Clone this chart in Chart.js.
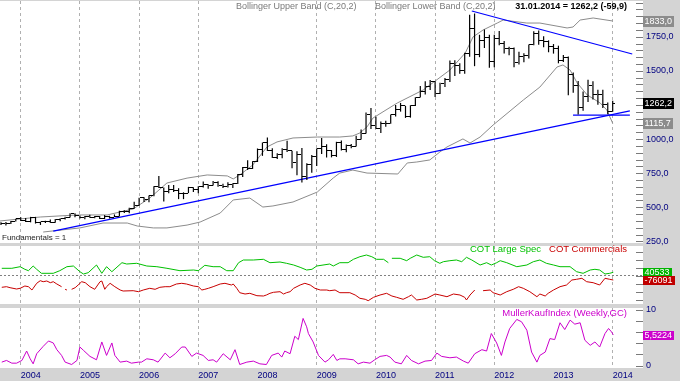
<!DOCTYPE html>
<html><head><meta charset="utf-8">
<script src="https://cdn.jsdelivr.net/npm/chart.js@4.4.1/dist/chart.umd.min.js"></script>
<style>
html,body{margin:0;padding:0;}
body{background:#d4d4d4;width:680px;height:381px;overflow:hidden;position:relative;font-family:'Liberation Sans',Arial,sans-serif;}
.pane{position:absolute;left:0;width:680px;}
.t{position:absolute;white-space:nowrap;font-size:9px;line-height:10px;}
</style></head>
<body>
<div class="pane" style="top:1px;height:245px"><canvas id="pricec"></canvas></div>
<div class="pane" style="top:246px;height:58px"><canvas id="cotc"></canvas></div>
<div class="pane" style="top:305px;height:76px"><canvas id="mkc"></canvas></div>
<div class="t" style="left:236px;top:1px;color:#7a7a7a">Bollinger Upper Band (C,20,2)</div>
<div class="t" style="left:375px;top:1px;color:#7a7a7a">Bollinger Lower Band (C,20,2)</div>
<div class="t" style="right:53px;top:1px;color:#000;font-weight:bold">31.01.2014 = 1262,2 (-59,9)</div>
<div class="t" style="left:2px;top:233px;color:#222;font-size:8px">Fundamentals = 1</div>
<div class="t" style="right:53px;top:244px;font-size:9.5px"><span style="color:#00c000">COT Large Spec</span>&nbsp;&nbsp;&nbsp;<span style="color:#c80000">COT Commercials</span></div>
<div class="t" style="right:53px;top:308px;color:#cc00cc;font-size:9.5px">MullerKaufIndex (Weekly,GC)</div>
<script>
const FONT = "'Liberation Sans', Arial, sans-serif";
const XMIN = 2003.65, XMAX = 2014.512;
const yearTicks = [2004,2005,2006,2007,2008,2009,2010,2011,2012,2013,2014];
const noGridYears = [2008, 2013];
const priceTicks = [250,500,750,1000,1250,1500,1750];
const mkTicks = [0,10];

const months = ['2003-09','2003-10','2003-11','2003-12',
'2004-01','2004-02','2004-03','2004-04','2004-05','2004-06','2004-07','2004-08','2004-09','2004-10','2004-11','2004-12',
'2005-01','2005-02','2005-03','2005-04','2005-05','2005-06','2005-07','2005-08','2005-09','2005-10','2005-11','2005-12',
'2006-01','2006-02','2006-03','2006-04','2006-05','2006-06','2006-07','2006-08','2006-09','2006-10','2006-11','2006-12',
'2007-01','2007-02','2007-03','2007-04','2007-05','2007-06','2007-07','2007-08','2007-09','2007-10','2007-11','2007-12',
'2008-01','2008-02','2008-03','2008-04','2008-05','2008-06','2008-07','2008-08','2008-09','2008-10','2008-11','2008-12',
'2009-01','2009-02','2009-03','2009-04','2009-05','2009-06','2009-07','2009-08','2009-09','2009-10','2009-11','2009-12',
'2010-01','2010-02','2010-03','2010-04','2010-05','2010-06','2010-07','2010-08','2010-09','2010-10','2010-11','2010-12',
'2011-01','2011-02','2011-03','2011-04','2011-05','2011-06','2011-07','2011-08','2011-09','2011-10','2011-11','2011-12',
'2012-01','2012-02','2012-03','2012-04','2012-05','2012-06','2012-07','2012-08','2012-09','2012-10','2012-11','2012-12',
'2013-01','2013-02','2013-03','2013-04','2013-05','2013-06','2013-07','2013-08','2013-09','2013-10','2013-11','2013-12',
'2014-01'];

const openP = [375,385,384,397, 416,400,397,427,388,393,396,391,409,416,428,453, 438,423,436,428,435,417,436,429,433,473,470,495, 513,569,556,583,654,644,614,633,623,599,604,646, 632,650,665,662,681,659,650,666,673,743,789,783, 834,924,972,916,863,885,925,914,829,884,724,815, 869,928,942,916,883,975,927,954,949,996,1040,1182, 1096,1081,1116,1113,1180,1215,1244,1169,1246,1307,1346,1383, 1421,1332,1410,1439,1556,1536,1500,1628,1813,1620,1722,1746, 1566,1740,1697,1662,1664,1558,1604,1610,1692,1772,1719,1714, 1675,1663,1578,1595,1476,1393,1234,1313,1396,1327,1323,1253, 1202];
const highP = [390,393,399,417, 427,421,430,430,395,401,410,415,420,430,456,457, 440,437,445,436,436,443,438,448,474,479,497,540, 571,574,587,654,730,646,664,663,640,610,650,647, 655,690,669,692,691,672,683,677,745,795,845,838, 931,975,1011,932,897,932,987,915,910,934,822,884, 931,1007,962,920,980,990,960,963,1024,1070,1195,1227, 1163,1128,1135,1180,1249,1265,1244,1248,1307,1388,1424,1432, 1423,1412,1448,1576,1577,1555,1632,1911,1920,1764,1803,1764, 1764,1791,1718,1676,1670,1640,1628,1692,1790,1796,1754,1723, 1696,1684,1616,1605,1487,1425,1348,1434,1424,1362,1361,1267, 1280];
const lowP = [370,367,378,397, 399,392,390,381,371,386,386,387,398,411,425,427, 418,412,424,420,414,414,418,429,433,459,457,490, 512,539,537,581,641,543,603,612,560,560,604,612, 603,646,636,660,650,641,646,641,670,722,773,781, 832,877,913,861,854,859,905,786,735,681,700,753, 803,890,865,866,869,917,904,933,946,996,1040,1074, 1075,1045,1090,1113,1165,1201,1155,1157,1243,1305,1326,1360, 1308,1330,1381,1418,1462,1478,1478,1603,1534,1600,1667,1523, 1527,1688,1627,1614,1527,1547,1562,1591,1687,1691,1672,1636, 1626,1555,1565,1321,1339,1180,1208,1271,1290,1251,1227,1181, 1200];
const closeP = [385,384,397,416, 400,397,427,388,393,396,391,409,416,428,453,438, 423,436,428,435,417,436,429,433,473,470,495,513, 569,556,583,654,644,614,633,623,599,604,646,632, 650,665,662,681,659,650,666,673,743,789,783,834, 924,972,916,863,885,925,914,829,884,724,815,869, 928,942,916,883,975,927,954,949,996,1040,1182,1096, 1081,1116,1113,1180,1215,1244,1169,1246,1307,1346,1383,1421, 1332,1410,1439,1556,1536,1500,1628,1813,1620,1722,1746,1566, 1740,1697,1662,1664,1558,1604,1610,1692,1772,1719,1714,1675, 1663,1578,1595,1476,1393,1234,1313,1396,1327,1323,1253,1202, 1262.2];

const upperDates = [2003.65,2003.99,2004.33,2004.95,2005.46,2005.90,2006.18,2006.47,2006.81,2007.15,2007.49,2007.59,2007.70,2007.92,2008.16,2008.33,2008.60,2009.01,2009.39,2009.61,2009.73,2009.85,2009.95,2010.36,2010.80,2011.25,2011.51,2011.64,2011.81,2012.05,2012.15,2012.55,2012.77,2013.23,2013.33,2013.45,2013.67,2014.00];
const upperVals = [400,415,429,444,444,488,568,678,714,737,730,708,737,810,942,979,1008,1015,1015,1023,1045,1089,1154,1264,1360,1506,1631,1748,1799,1850,1872,1850,1850,1814,1821,1872,1887,1865];
const lowerDates = [2004.38,2005.00,2005.39,2005.80,2005.97,2006.24,2006.47,2006.81,2007.03,2007.37,2007.59,2007.87,2008.09,2008.26,2008.60,2009.01,2009.28,2009.39,2009.61,2009.85,2010.37,2010.53,2010.69,2010.91,2011.08,2011.20,2011.47,2011.59,2011.76,2011.98,2012.49,2012.77,2013.06,2013.16,2013.28,2013.40,2013.57,2013.79,2013.90,2014.00];
const lowerVals = [319,349,385,385,363,349,349,370,392,458,554,568,502,510,539,612,715,751,773,751,744,825,832,847,905,942,1001,971,1015,1103,1286,1381,1528,1543,1506,1411,1323,1264,1213,1116];

const riseDates = [2004.55, 2014.29], riseVals = [326, 1206];
const fallDates = [2011.62, 2014.33], fallVals = [1938, 1623];
const flatDates = [2013.33, 2014.29], flatVals = [1176, 1176];

const specDates = [2003.68,2003.85,2003.99,2004.07,2004.13,2004.21,2004.27,2004.35,2004.55,2004.66,2004.78,2004.89,2005.00,2005.06,2005.14,2005.28,2005.37,2005.45,2005.54,2005.71,2005.79,2005.96,2006.13,2006.30,2006.47,2006.69,2006.92,2007.00,2007.11,2007.25,2007.37,2007.48,2007.59,2007.68,2007.76,2007.93,2008.10,2008.21,2008.38,2008.49,2008.61,2008.72,2008.83,2008.92,2009.00,2009.22,2009.28,2009.39,2009.53,2009.62,2009.73,2009.84,2009.93,2010.01,2010.13,2010.21,2010.24,2010.27,2010.41,2010.52,2010.58,2010.69,2010.80,2010.91,2010.99,2011.08,2011.14,2011.25,2011.36,2011.45,2011.53,2011.62,2011.76,2011.87,2011.95,2012.04,2012.10,2012.21,2012.38,2012.55,2012.66,2012.77,2012.88,2013.00,2013.11,2013.28,2013.39,2013.50,2013.62,2013.70,2013.78,2013.87,2013.95,2014.01];
const specVals = [77,77,93,67,53,100,67,27,27,53,93,100,43,20,33,110,27,93,43,133,120,127,100,93,77,53,60,53,107,93,93,53,53,133,160,160,167,133,140,127,110,87,60,67,100,120,100,133,133,167,193,210,193,167,167,133,null,177,177,153,177,210,187,193,153,127,143,153,160,143,187,160,110,133,110,133,153,133,93,110,143,160,127,110,93,93,43,27,60,67,60,20,27,37];
const commDates = [2003.68,2003.76,2003.82,2003.93,2003.99,2004.07,2004.13,2004.19,2004.21,2004.27,2004.33,2004.38,2004.44,2004.50,2004.55,2004.61,2004.69,2004.72,2004.75,2004.78,2004.82,2004.86,2004.92,2004.97,2005.03,2005.09,2005.17,2005.25,2005.34,2005.37,2005.42,2005.45,2005.51,2005.59,2005.68,2005.73,2005.90,2005.99,2006.07,2006.18,2006.27,2006.35,2006.44,2006.52,2006.63,2006.72,2006.80,2006.92,2007.00,2007.06,2007.11,2007.17,2007.25,2007.37,2007.45,2007.56,2007.59,2007.65,2007.70,2007.79,2007.87,2007.99,2008.10,2008.15,2008.21,2008.27,2008.38,2008.44,2008.49,2008.55,2008.61,2008.72,2008.80,2008.89,2008.97,2009.06,2009.17,2009.22,2009.31,2009.39,2009.56,2009.65,2009.73,2009.82,2009.87,2009.96,2010.07,2010.18,2010.27,2010.35,2010.46,2010.55,2010.60,2010.69,2010.77,2010.86,2011.00,2011.08,2011.20,2011.31,2011.42,2011.50,2011.53,2011.59,2011.67,2011.74,2011.81,2011.93,2011.98,2012.10,2012.21,2012.32,2012.41,2012.49,2012.60,2012.72,2012.77,2012.86,2012.91,2013.00,2013.11,2013.22,2013.31,2013.39,2013.48,2013.56,2013.67,2013.78,2013.87,2013.95,2014.01];
const commVals = [-113,-107,-117,-130,-123,-100,-107,-140,-123,-73,-47,-57,-50,-67,-57,-80,-107,null,-133,-140,null,-133,-117,-90,-57,-67,-107,-133,-57,-50,-133,-107,-73,-107,-140,-150,-147,-157,-140,-123,-133,-113,-107,-107,-80,-73,-80,-100,-107,-140,-133,-123,-107,-80,-73,-90,-80,-123,-167,-180,-173,-197,-200,-190,-173,-163,-157,-180,-167,-157,-123,-90,-73,-90,-123,-140,-140,-147,-140,-167,-167,-190,-223,-233,-247,-213,-190,-173,-200,-213,-233,-207,-190,-240,-233,-223,-180,-190,-207,-180,-190,-213,-240,-190,-140,null,-147,-140,-167,-190,-157,-133,-107,-123,-157,-207,-180,-200,-173,-140,-107,-90,-40,-33,-23,-57,-67,-90,-23,-33,-40];

const mkDates = [2003.68,2003.76,2003.85,2003.93,2004.02,2004.10,2004.16,2004.21,2004.27,2004.38,2004.47,2004.55,2004.61,2004.69,2004.75,2004.86,2004.95,2005.00,2005.06,2005.17,2005.28,2005.37,2005.45,2005.54,2005.59,2005.68,2005.79,2005.87,2005.99,2006.04,2006.13,2006.24,2006.32,2006.44,2006.52,2006.61,2006.72,2006.78,2006.89,2006.97,2007.08,2007.17,2007.25,2007.31,2007.42,2007.54,2007.62,2007.70,2007.82,2007.93,2008.04,2008.15,2008.24,2008.35,2008.41,2008.46,2008.55,2008.63,2008.69,2008.77,2008.83,2008.86,2008.94,2009.03,2009.14,2009.20,2009.28,2009.34,2009.39,2009.48,2009.62,2009.70,2009.79,2009.90,2009.98,2010.07,2010.18,2010.24,2010.32,2010.43,2010.52,2010.60,2010.72,2010.83,2010.94,2011.03,2011.11,2011.25,2011.36,2011.48,2011.56,2011.67,2011.79,2011.87,2011.95,2012.04,2012.12,2012.18,2012.26,2012.38,2012.46,2012.55,2012.63,2012.72,2012.77,2012.86,2012.94,2013.02,2013.11,2013.19,2013.28,2013.36,2013.45,2013.53,2013.62,2013.70,2013.78,2013.87,2013.93,2013.98,2014.01];
const mkVals = [0.61,0.91,0.42,0.42,0.91,2.61,1.21,0.30,2.12,3.45,4.42,4.06,2.85,1.82,0.61,0.18,0.91,3.33,2.73,1.64,1.03,4.24,1.82,4.06,1.82,0.61,0.79,0.42,0.61,0.61,1.21,1.03,0.61,2.24,1.39,2.12,3.33,3.33,1.64,2.24,1.82,0.91,1.03,0.61,2.12,1.03,2.85,0.18,0.61,0.79,0.30,0.18,1.82,2.24,1.52,2.61,2.12,5.27,4.67,8.48,6.97,5.76,4.24,1.82,0.61,1.03,2.00,0.91,1.20,1.21,1.03,0.30,0.61,0.42,1.03,1.64,1.82,1.52,0.61,0.30,1.82,0.91,0.30,0.79,0.91,2.24,1.64,1.39,1.52,0.79,0.42,2.12,2.85,2.61,5.76,4.06,1.82,4.24,6.67,8.30,7.88,6.36,2.42,0.61,1.82,2.42,4.85,4.67,7.70,6.48,8.18,7.45,7.70,4.55,3.64,4.24,3.33,5.76,6.67,6.06,5.52];

const badgeTexts = {upper:'1833,0', close:'1262,2', lower:'1115,7', spec:'40533', comm:'-76091', mk:'5,5224'};

// ---------- helpers ----------
function yr(m){ const p = m.split('-').map(Number); return p[0] + (p[1]-1)/12; }
function pts(xs, ys){ return xs.map((x,i)=>({x:x, y:ys[i]})); }
function last(a){ return a[a.length-1]; }
function tickImg(left){
  const c = document.createElement('canvas'); c.width = 5; c.height = 1;
  const g = c.getContext('2d'); g.fillStyle = '#000'; g.fillRect(left?0:3, 0, 2, 1); return c;
}
Chart.defaults.font.family = FONT;
const whiteArea = {id:'whiteArea', beforeDraw(c){ const a=c.chartArea, g=c.ctx; g.save(); g.fillStyle='#fff'; g.fillRect(a.left,a.top,a.right-a.left,a.bottom-a.top); g.restore(); }};
const crisp = {id:'crisp', beforeDatasetsDraw(c){ c.ctx.imageSmoothingEnabled = false; }};
function minorTicks(from, to, step){
  return {id:'minorTicks', afterDatasetsDraw(c){
    const s=c.scales.y, g=c.ctx, r=c.chartArea.right; g.save(); g.strokeStyle='#7a7a7a'; g.lineWidth=1;
    for(let v=from; v<=to+1e-9; v+=step){ const y=Math.round(s.getPixelForValue(v))+0.5; if(y<c.chartArea.top||y>c.chartArea.bottom) continue; g.beginPath(); g.moveTo(r-7,y); g.lineTo(r,y); g.stroke(); }
    g.restore(); }};
}
function badges(items, h){
  return {id:'badges', afterDraw(c){
    const s=c.scales.y, g=c.ctx, x0=c.chartArea.right; g.save(); g.font='9px '+FONT; g.textBaseline='middle'; g.textAlign='left';
    items.forEach(it=>{ const y=Math.round(s.getPixelForValue(it.v)); const w=Math.ceil(g.measureText(it.t).width)+3;
      g.fillStyle=it.bg; g.fillRect(x0, y-Math.floor(h/2), w, h); g.fillStyle='#fff'; g.fillText(it.t, x0+1.5, y+0.5); });
    g.restore(); }};
}
function noPad(s){ s.paddingTop = 0; s.paddingBottom = 0; s.paddingLeft = 0; s.paddingRight = 0; }
function xScale(showLabels, h){
  return {type:'linear', min:XMIN, max:XMAX, offset:false,
    afterBuildTicks: s => { s.ticks = yearTicks.map(v=>({value:v})); },
    afterFit: s => { s.height = h; noPad(s); },
    grid:{display:true, drawTicks:false, drawOnChartArea:true, offset:false, lineWidth:1,
      color: ctx => (ctx.tick && noGridYears.indexOf(ctx.tick.value) >= 0) ? 'rgba(0,0,0,0)' : '#b0b0b0'},
    border:{display:false, dash:[3,3]},
    ticks:{display:showLabels, align:'start', padding:2, color:'#000080', font:{size:9}, autoSkip:false, maxRotation:0, callback: v => String(v)}
  };
}
function yScale(min, max, tickVals, fmt, showLabels, gridOpts){
  return {type:'linear', position:'right', min:min, max:max,
    afterBuildTicks: s => { s.ticks = tickVals.map(v=>({value:v})); },
    afterFit: s => { s.width = 37; noPad(s); },
    grid: gridOpts || {display:false, drawTicks:false},
    border:{display:false, dash:[2,2]},
    ticks:{display:showLabels, color:'#000080', font:{size:9}, padding:3, autoSkip:false, callback: fmt}
  };
}
function opts(scales, pad){
  return {responsive:true, maintainAspectRatio:false, animation:false, events:[],
    layout:{padding:pad, autoPadding:false}, plugins:{legend:{display:false}, tooltip:{enabled:false}},
    elements:{line:{tension:0}, point:{radius:0}}, scales:scales};
}
const lineDs = (data, color, width) => ({data:data, borderColor:color, borderWidth:width, pointRadius:0, fill:false, spanGaps:false});

// ---------- price panel ----------
const mx = months.map(yr);
new Chart(document.getElementById('pricec'), {
  type:'line',
  data:{datasets:[
    {type:'bar', data: mx.map((x,i)=>({x:x, y:[lowP[i], highP[i]]})), backgroundColor:'#000', borderWidth:0, barThickness:1.2, inflateAmount:0},
    {data: mx.map((x,i)=>({x:x, y:openP[i]})), showLine:false, pointStyle:tickImg(true), pointRadius:2},
    {data: mx.map((x,i)=>({x:x, y:closeP[i]})), showLine:false, pointStyle:tickImg(false), pointRadius:2},
    lineDs(pts(riseDates, riseVals), '#0000ff', 1.2),
    lineDs(pts(fallDates, fallVals), '#0000ff', 1.2),
    lineDs(pts(flatDates, flatVals), '#0000ff', 1.2),
    lineDs(pts(upperDates, upperVals), '#8c8c8c', 1),
    lineDs(pts(lowerDates, lowerVals), '#8c8c8c', 1)
  ]},
  options: opts({
    x: xScale(false, 3),
    y: yScale(238.6, 2011.5, priceTicks, v => v.toFixed(1).replace('.', ','), true)
  }, 0),
  plugins:[whiteArea, crisp, minorTicks(250, 2000, 50), badges([
    {v:last(upperVals), t:badgeTexts.upper, bg:'#8c8c8c'},
    {v:last(closeP), t:badgeTexts.close, bg:'#000000'},
    {v:last(lowerVals), t:badgeTexts.lower, bg:'#8c8c8c'}], 11)]
});

// ---------- COT panel ----------
new Chart(document.getElementById('cotc'), {
  type:'line',
  data:{datasets:[
    lineDs(pts(specDates, specVals), '#00c000', 1),
    lineDs(pts(commDates, commVals), '#c80000', 1)
  ]},
  options: opts({
    x: xScale(false, 0),
    y: yScale(-280, 300, [0], v => '', false, {display:true, drawTicks:false, drawOnChartArea:true, color:'#808080', lineWidth:1})
  }, 0),
  plugins:[whiteArea, minorTicks(-240, 240, 80), badges([
    {v:last(specVals), t:badgeTexts.spec, bg:'#00b400'},
    {v:last(commVals), t:badgeTexts.comm, bg:'#c00000'}], 9)]
});

// ---------- MullerKaufIndex panel ----------
new Chart(document.getElementById('mkc'), {
  type:'line',
  data:{datasets:[ lineDs(pts(mkDates, mkVals), '#cc00cc', 1) ]},
  options: opts({
    x: xScale(true, 13),
    y: yScale(-0.45, 10.36, mkTicks, v => String(v), true)
  }, {top:3, left:0, right:0, bottom:0}),
  plugins:[whiteArea, minorTicks(0, 10, 2), badges([
    {v:last(mkVals), t:badgeTexts.mk, bg:'#cc00cc'}], 9)]
});
</script>
</body></html>
